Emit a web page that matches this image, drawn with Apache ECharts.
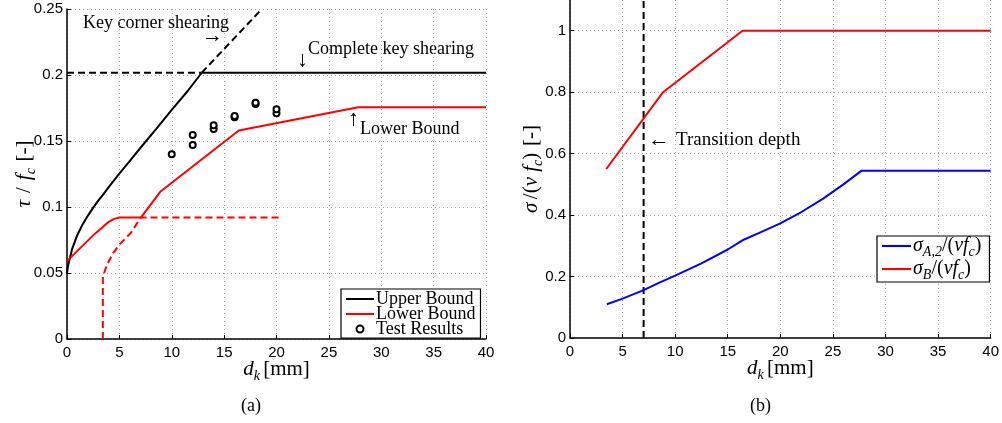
<!DOCTYPE html>
<html>
<head>
<meta charset="utf-8">
<script src="https://cdn.jsdelivr.net/npm/echarts@6/dist/echarts.min.js"></script>
<style>
  html, body { margin: 0; padding: 0; background: #fff; }
  #main { width: 1002px; height: 423px; }
</style>
</head>
<body>
<div id="main"></div>
<script>
// ---- panel (a): tau / fc against key depth ----
var upperBound = [[0, 0.05], [0.1, 0.0555], [0.25, 0.0605], [0.5, 0.0685], [1, 0.079], [1.5, 0.087],
  [2, 0.0935], [2.5, 0.0995], [3, 0.105], [3.5, 0.11], [4, 0.1152], [5, 0.1253], [6, 0.135],
  [7, 0.1447], [8.5, 0.159], [10, 0.1735], [11.5, 0.1877], [12.86, 0.2017]];
var upperFlat = [[12.86, 0.2017], [40, 0.2017]];
var keyCorner = [[12.86, 0.2017], [18.6, 0.25]];
var completeKey = [[0, 0.2017], [12.86, 0.2017]];
var lowerBound = [[0, 0.059], [1.4, 0.07], [2.7, 0.08], [3.5, 0.0855], [4, 0.0888], [4.5, 0.091], [5, 0.092],
  [7.05, 0.092], [8.9, 0.1115], [16.4, 0.158], [27.8, 0.1755], [40, 0.1755]];
var lowerDashed = [[3.42, 0], [3.42, 0.047], [3.8, 0.056], [4.4, 0.065], [5, 0.0715], [6.05, 0.08],
  [7.05, 0.092], [20.2, 0.092]];
var testResults = [[10, 0.14], [12, 0.147], [12, 0.1545], [14, 0.159], [14, 0.162], [16, 0.168],
  [16, 0.169], [18, 0.178], [18, 0.179], [20, 0.171], [20, 0.174]];

// ---- panel (b): sigma / (nu fc) against key depth ----
var sigmaA2 = [[3.5, 0.11], [5, 0.128], [7, 0.156], [8.5, 0.18], [10, 0.203], [12.5, 0.243],
  [15, 0.288], [16.4, 0.318], [18, 0.342], [20, 0.373], [22, 0.41], [24, 0.452], [26, 0.5],
  [27.7, 0.544], [40, 0.544]];
var sigmaB = [[3.45, 0.55], [8.85, 0.8], [16.4, 1.0], [40, 1.0]];
var transitionDepth = [[7, 0], [7, 1.1]];

var serif = "Liberation Serif";
var sans = "Liberation Sans";
var lineIcon = "path://M0,0H28V2H0Z";

function mathRich(size, sub) {
  return {
    n: { fontFamily: serif, fontSize: size, lineHeight: size + 6, color: "#000" },
    w: { fontFamily: serif, fontSize: size, lineHeight: size + 6, color: "#000", padding: [0, 7, 0, 7] },
    i: { fontFamily: serif, fontSize: size, lineHeight: size + 6, fontStyle: "italic", color: "#000" },
    s: { fontFamily: serif, fontSize: sub, lineHeight: sub, fontStyle: "italic", color: "#000", verticalAlign: "bottom" }
  };
}
var axisRich = mathRich(21, 14);
var legendRich = mathRich(20, 14);

function xAx(idx) {
  return {
    type: "value", gridIndex: idx, min: 0, max: 40, interval: 5,
    name: "{i|d}{s|k} {n|[mm]}", nameLocation: "middle", nameGap: 17, nameMoveOverlap: false,
    nameTextStyle: { rich: axisRich },
    axisLine: { lineStyle: { color: "#000", width: 1.5 } },
    axisTick: { inside: true, length: 4, lineStyle: { color: "#000" } },
    axisLabel: { color: "#000", fontFamily: sans, fontSize: 15, margin: 6 },
    splitLine: { show: true, lineStyle: { color: "#aaa", type: [1, 3] } }
  };
}

var myChart = echarts.init(document.getElementById("main"));
myChart.setOption({
  animation: false,
  backgroundColor: "#fff",
  grid: [
    { left: 67, top: 9, width: 419, height: 330 },
    { left: 570, top: 0, width: 426, height: 338 }
  ],
  xAxis: [xAx(0), xAx(1)],
  yAxis: [
    {
      type: "value", gridIndex: 0, min: 0, max: 0.25, interval: 0.05,
      name: "{i|τ}{w|/}{i|f}{s|c}  {n|[-]}", nameLocation: "middle", nameGap: 29, nameRotate: 90,
      nameMoveOverlap: false,
      nameTextStyle: { rich: axisRich },
      axisLine: { show: true, lineStyle: { color: "#000", width: 1.5 } },
      axisTick: { show: true, inside: true, length: 4, lineStyle: { color: "#000" } },
      axisLabel: { color: "#000", fontFamily: sans, fontSize: 15, margin: 4 },
      splitLine: { show: true, lineStyle: { color: "#aaa", type: [1, 3] } }
    },
    {
      type: "value", gridIndex: 1, min: 0, max: 1.1, interval: 0.2,
      name: "{i|σ} {n|/(}{i|ν f}{s|c}{n|)}  {n|[-]}", nameLocation: "middle", nameGap: 25, nameRotate: 90,
      nameMoveOverlap: false,
      nameTextStyle: { rich: axisRich },
      axisLine: { show: true, lineStyle: { color: "#000", width: 1.5 } },
      axisTick: { show: true, inside: true, length: 4, lineStyle: { color: "#000" } },
      axisLabel: { color: "#000", fontFamily: sans, fontSize: 15, margin: 4, showMaxLabel: false,
        formatter: function (v) { return v > 1.05 ? "" : String(Math.round(v * 10) / 10); } },
      splitLine: { show: true, showMaxLine: false, lineStyle: { color: "#aaa", type: [1, 3] } }
    }
  ],
  legend: [
    {
      data: [
        { name: "Upper Bound", icon: lineIcon },
        { name: "Lower Bound", icon: lineIcon },
        { name: "Test Results", icon: "emptyCircle" }
      ],
      left: 341, top: 289, orient: "vertical", itemGap: -3, itemWidth: 28, itemHeight: 7,
      padding: [1, 5, 0, 5], borderColor: "#000", borderWidth: 1.2, backgroundColor: "#fff",
      selectedMode: false,
      textStyle: { fontFamily: serif, fontSize: 18, color: "#000", padding: [0, 0, 0, -3] }
    },
    {
      data: [{ name: "sA2", icon: lineIcon }, { name: "sB", icon: lineIcon }],
      left: 877, top: 236, orient: "vertical", itemGap: 0, itemWidth: 29, itemHeight: 10,
      padding: [0, 8, 0, 5], borderColor: "#000", borderWidth: 1.2, backgroundColor: "#fff",
      selectedMode: false,
      formatter: function (name) {
        return name === "sA2" ? "{i|σ}{s|A,2}{n|/(}{i|νf}{s|c}{n|)}" : "{i|σ}{s|B}{n|/(}{i|νf}{s|c}{n|)}";
      },
      textStyle: { padding: [0, 0, 0, -3], rich: legendRich }
    }
  ],
  series: [
    { name: "keyCorner", type: "line", xAxisIndex: 0, yAxisIndex: 0, data: keyCorner, symbol: "none",
      lineStyle: { color: "#000", width: 2, type: [7, 4] } },
    { name: "completeKey", type: "line", xAxisIndex: 0, yAxisIndex: 0, data: completeKey, symbol: "none",
      lineStyle: { color: "#000", width: 2, type: [7, 4] } },
    { name: "lowerDashed", type: "line", xAxisIndex: 0, yAxisIndex: 0, data: lowerDashed, symbol: "none",
      lineStyle: { color: "#ff0000", width: 2, type: [7, 4] } },
    { name: "Upper Bound", type: "line", xAxisIndex: 0, yAxisIndex: 0, data: upperBound, symbol: "none",
      lineStyle: { color: "#000", width: 2 }, itemStyle: { color: "#000" } },
    { name: "upperFlat", type: "line", xAxisIndex: 0, yAxisIndex: 0, data: upperFlat, symbol: "none",
      lineStyle: { color: "#000", width: 2 } },
    { name: "Lower Bound", type: "line", xAxisIndex: 0, yAxisIndex: 0, data: lowerBound, symbol: "none",
      lineStyle: { color: "#ff0000", width: 2 }, itemStyle: { color: "#ff0000" } },
    { name: "Test Results", type: "scatter", xAxisIndex: 0, yAxisIndex: 0, data: testResults,
      symbol: "emptyCircle", symbolSize: 6,
      itemStyle: { color: "#000", borderColor: "#000", borderWidth: 2, opacity: 1 } },

    { name: "transition", type: "line", xAxisIndex: 1, yAxisIndex: 1, data: transitionDepth, symbol: "none",
      lineStyle: { color: "#000", width: 2, type: [7, 4] } },
    { name: "sA2", type: "line", xAxisIndex: 1, yAxisIndex: 1, data: sigmaA2, symbol: "none",
      lineStyle: { color: "#0000ff", width: 2 }, itemStyle: { color: "#0000ff" } },
    { name: "sB", type: "line", xAxisIndex: 1, yAxisIndex: 1, data: sigmaB, symbol: "none",
      lineStyle: { color: "#ff0000", width: 2 }, itemStyle: { color: "#ff0000" } }
  ],
  graphic: [
    { type: "text", left: 83, top: 14, style: { text: "Key corner shearing", font: "18px " + serif, fill: "#000" } },
    { type: "text", left: 202, top: 26, style: { text: "→", font: "21px " + serif, fill: "#000" } },
    { type: "text", left: 308, top: 40, style: { text: "Complete key shearing", font: "18px " + serif, fill: "#000" } },
    { type: "text", left: 297, top: 49, style: { text: "↓", font: "22px " + serif, fill: "#000" } },
    { type: "text", left: 348, top: 108, style: { text: "↑", font: "22px " + serif, fill: "#000" } },
    { type: "text", left: 360, top: 120, style: { text: "Lower Bound", font: "18px " + serif, fill: "#000" } },
    { type: "text", left: 648, top: 129, style: { text: "←", font: "22px " + serif, fill: "#000" } },
    { type: "text", left: 676, top: 131, style: { text: "Transition depth", font: "19px " + serif, fill: "#000" } },
    { type: "text", left: 241, top: 397, style: { text: "(a)", font: "18px " + serif, fill: "#000" } },
    { type: "text", left: 750, top: 397, style: { text: "(b)", font: "18px " + serif, fill: "#000" } }
  ]
});
window.addEventListener("resize", function () {
  myChart.resize();
});
</script>
</body>
</html>
